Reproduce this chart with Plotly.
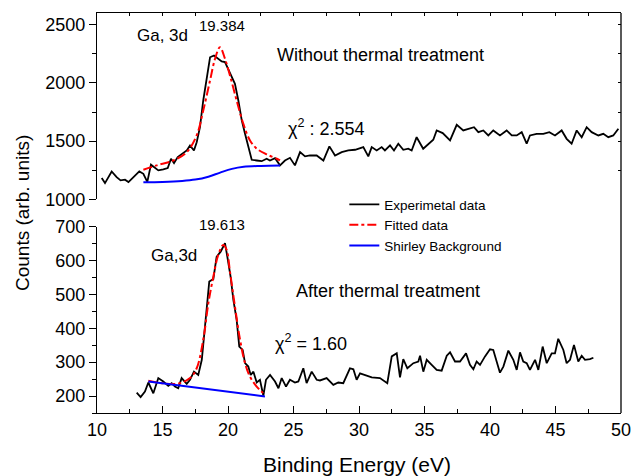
import plotly.graph_objects as go

# ---------------- Top panel: Without thermal treatment ----------------
top_exp_x = [10.36, 10.61, 11.12, 11.5, 11.8, 12.14, 12.4, 12.77, 13.23, 13.54, 13.84, 14.12, 14.43,
             14.68, 15.06, 15.4, 15.65, 15.88, 16.16, 16.59, 16.85, 17.1, 17.4, 17.61, 17.86, 18.11,
             18.37, 18.63, 18.93, 19.26, 19.52, 19.77, 20.15, 20.53, 20.79, 21.05, 21.3, 21.56, 21.81,
             22.2, 22.57, 22.95, 23.2, 23.59, 23.97, 24.35, 24.73, 25.11, 25.5, 25.88, 26.26, 26.77,
             27.28, 27.74, 28.17, 28.68, 29.18, 29.7, 30.33, 30.71, 30.97, 31.35, 31.73, 31.98, 32.37,
             32.67, 33.0, 33.38, 33.76, 34.02, 34.4, 34.9, 35.29, 35.67, 35.93, 36.39, 36.95, 37.46,
             37.96, 38.47, 38.78, 39.11, 39.49, 39.87, 40.25, 40.76, 41.27, 41.66, 42.04, 42.42, 42.8,
             43.05, 43.56, 44.07, 44.53, 44.96, 45.47, 45.85, 46.23, 46.62, 47.0, 47.38, 47.76, 48.27,
             48.65, 49.03, 49.41, 49.8]
top_exp_y = [1183, 1140, 1240, 1191, 1163, 1169, 1149, 1191, 1240, 1220, 1150, 1298, 1269,
             1249, 1257, 1269, 1349, 1311, 1363, 1397, 1420, 1463, 1420, 1491, 1620, 1849,
             2021, 2220, 2235, 2207, 2184, 2178, 2092, 1992, 1849, 1678, 1563, 1449, 1340,
             1334, 1328, 1349, 1334, 1354, 1292, 1334, 1357, 1292, 1406, 1369, 1377, 1377,
             1334, 1455, 1377, 1406, 1420, 1426, 1449, 1369, 1449, 1420, 1449, 1420, 1463,
             1420, 1478, 1426, 1435, 1420, 1534, 1435, 1478, 1512, 1592, 1569, 1506, 1640,
             1592, 1606, 1620, 1577, 1592, 1549, 1592, 1549, 1592, 1549, 1549, 1577, 1478,
             1549, 1563, 1563, 1577, 1549, 1592, 1520, 1478, 1592, 1534, 1620, 1577, 1549,
             1563, 1534, 1549, 1606]

top_fit_x = [13.54, 14.55, 15.82, 16.85, 17.61, 18.11, 18.63, 19.01, 19.39, 19.77, 20.15, 20.66,
             21.17, 21.68, 22.2, 22.95, 23.72, 23.97]
top_fit_y = [1254, 1292, 1334, 1406, 1549, 1763, 2021, 2207, 2306, 2207, 2064, 1849,
             1649, 1506, 1435, 1386, 1349, 1334]

top_bg_x = [13.54, 15.0, 16.5, 17.5, 18.5, 19.4, 20.3, 21.2, 22.5, 23.97]
top_bg_y = [1147, 1150, 1158, 1170, 1195, 1230, 1262, 1280, 1287, 1290]

# ---------------- Bottom panel: After thermal treatment ----------------
bot_exp_x = [13.03, 13.33, 13.66, 13.92, 14.3, 14.68, 15.06, 15.44, 15.7, 15.95, 16.2, 16.46,
             16.85, 17.1, 17.4, 17.73, 18.0, 18.24, 18.57, 18.88, 19.13, 19.44, 19.77, 19.95,
             20.2, 20.41, 20.66, 20.86, 21.12, 21.3, 21.55, 21.73, 21.94, 22.19, 22.44, 22.7,
             22.9, 23.21, 23.59, 23.85, 24.1, 24.43, 24.73, 25.11, 25.37, 25.75, 26.0, 26.39,
             26.77, 27.02, 27.53, 28.04, 28.42, 28.8, 29.31, 29.57, 29.82, 30.08, 30.46, 30.97,
             31.6, 32.16, 32.5, 32.88, 33.13, 33.38, 33.69, 34.15, 34.53, 34.66, 34.91, 35.17,
             35.55, 35.93, 36.31, 36.7, 36.95, 37.33, 37.71, 38.17, 38.47, 38.73, 38.98, 39.24,
             39.62, 40.0, 40.25, 40.76, 41.02, 41.4, 41.78, 42.04, 42.29, 42.54, 42.8, 43.05,
             43.44, 43.69, 44.02, 44.33, 44.71, 44.96, 45.21, 45.6, 45.85, 46.11, 46.41, 46.74,
             47.0, 47.25, 47.63, 47.89]
bot_exp_y = [210, 197, 213, 240, 208, 253, 243, 230, 238, 228, 223, 253,
             236, 248, 272, 262, 307, 405, 538, 545, 611, 626, 651, 611,
             552, 484, 425, 346, 336, 297, 287, 262, 272, 240, 248, 201,
             248, 262, 243, 223, 253, 228, 248, 240, 243, 282, 238, 272,
             248, 246, 253, 233, 240, 238, 282, 279, 248, 267, 262, 255,
             253, 238, 317, 326, 255, 309, 282, 297, 302, 319, 272, 307,
             292, 277, 275, 319, 329, 302, 302, 326, 292, 279, 302, 292,
             317, 338, 336, 269, 287, 334, 307, 277, 329, 302, 297, 277,
             307, 277, 346, 297, 326, 326, 369, 336, 297, 307, 351, 302,
             319, 307, 309, 313]

bot_fit_x = [13.92, 16.08, 17.1, 17.61, 18.11, 18.5, 18.88, 19.26, 19.64, 19.9, 20.15, 20.53,
             20.92, 21.3, 21.68, 22.19, 22.57, 22.82]
bot_fit_y = [245, 236, 253, 282, 366, 474, 552, 617, 646, 631, 567, 464,
             366, 297, 257, 228, 213, 203]

bot_bg_x = [13.92, 18.37, 22.82]
bot_bg_y = [243, 221, 199]

legend_names = ["Experimetal data", "Fitted data", "Shirley Background"]

FONT = "Liberation Sans, Arial, sans-serif"

fig = go.Figure()
# top panel
fig.add_trace(go.Scatter(x=top_exp_x, y=top_exp_y, mode="lines", name=legend_names[0],
                         line=dict(color="black", width=1.8), xaxis="x2", yaxis="y2"))
fig.add_trace(go.Scatter(x=top_fit_x, y=top_fit_y, mode="lines", name=legend_names[1],
                         line=dict(color="#ff0000", width=2, dash="dashdot", shape="spline"),
                         xaxis="x2", yaxis="y2"))
fig.add_trace(go.Scatter(x=top_bg_x, y=top_bg_y, mode="lines", name=legend_names[2],
                         line=dict(color="#0000ff", width=2, shape="spline"), xaxis="x2", yaxis="y2"))
# bottom panel
fig.add_trace(go.Scatter(x=bot_exp_x, y=bot_exp_y, mode="lines", showlegend=False,
                         line=dict(color="black", width=1.8), xaxis="x", yaxis="y"))
fig.add_trace(go.Scatter(x=bot_fit_x, y=bot_fit_y, mode="lines", showlegend=False,
                         line=dict(color="#ff0000", width=2, dash="dashdot", shape="spline"),
                         xaxis="x", yaxis="y"))
fig.add_trace(go.Scatter(x=bot_bg_x, y=bot_bg_y, mode="lines", showlegend=False,
                         line=dict(color="#0000ff", width=2), xaxis="x", yaxis="y"))
# invisible trace so the right-hand tick axis of the top panel is drawn
fig.add_trace(go.Scatter(x=[None], y=[None], mode="lines", showlegend=False,
                         xaxis="x2", yaxis="y3", hoverinfo="skip"))

axis_common = dict(showgrid=False, zeroline=False, showline=True, linecolor="black",
                   linewidth=1.3, tickcolor="black", tickwidth=1.3, automargin=False,
                   tickfont=dict(family=FONT, size=18, color="black"))

fig.update_layout(
    template="none",
    width=632, height=476,
    margin=dict(l=97, r=11, t=13, b=63, pad=0, autoexpand=False),
    paper_bgcolor="white", plot_bgcolor="white",
    font=dict(family=FONT, color="black"),
    xaxis=dict(domain=[0, 1], range=[10, 50], anchor="y", ticks="inside", tick0=10, dtick=5,
               ticklen=7, minor=dict(dtick=2.5, ticklen=4, ticks="inside", tickcolor="black",
                                     tickwidth=1.3, showgrid=False),
               **axis_common),
    yaxis=dict(domain=[0, 0.466], range=[150, 700], anchor="x", ticks="outside", tick0=0,
               dtick=100, ticklen=7,
               minor=dict(dtick=50, ticklen=4, ticks="outside", tickcolor="black", tickwidth=1.3,
                          showgrid=False),
               **axis_common),
    xaxis2=dict(domain=[0, 1], range=[10, 50], anchor="y2", side="top", ticks="inside",
                tick0=10, dtick=2.5, ticklen=3, showticklabels=False, **axis_common),
    yaxis2=dict(domain=[0.534, 1], range=[1000, 2600], anchor="x2", ticks="outside", tick0=0,
                dtick=500, ticklen=7,
                minor=dict(dtick=250, ticklen=4, ticks="outside", tickcolor="black", tickwidth=1.3,
                           showgrid=False),
                **axis_common),
    yaxis3=dict(overlaying="y2", side="right", range=[1000, 2600], anchor="x2", ticks="inside",
                tick0=0, dtick=250, ticklen=3, showticklabels=False, showgrid=False,
                zeroline=False, showline=False, tickcolor="black", tickwidth=1.3,
                automargin=False),
    legend=dict(x=0.472, y=0.56, xanchor="left", yanchor="top", bgcolor="rgba(0,0,0,0)",
                borderwidth=0, font=dict(family=FONT, size=13.5, color="black"),
                tracegroupgap=0),
    shapes=[dict(type="line", xref="paper", yref="paper", x0=1, x1=1, y0=0, y1=1,
                 line=dict(color="black", width=1.3))],
)

def ann(text, x, y, size, **kw):
    # x, y given as pixel positions on the 632x476 canvas -> paper coordinates
    px = (x - 97) / 524
    py = (413 - y) / 400
    fig.add_annotation(text=text, x=px, y=py, xref="paper", yref="paper", showarrow=False,
                       xanchor="center", yanchor="middle",
                       font=dict(family=FONT, size=size, color="black"), **kw)

ann("Ga, 3d", 162, 35, 17)
ann("19.384", 222, 25, 15)
ann("Without thermal treatment", 380, 55, 18)
ann("χ<sup>2</sup> : 2.554", 326, 127, 18)
ann("19.613", 222, 224, 15)
ann("Ga,3d", 174, 255, 17)
ann("After thermal treatment", 388, 291, 18)
ann("χ<sup>2</sup> = 1.60", 311, 342, 18)
ann("Counts (arb. units)", 22, 213, 19, textangle=-90)
ann("Binding Energy (eV)", 357, 465, 21)

fig.write_html("out.html", config={"displayModeBar": False},
               post_script="document.body.style.margin='0px';")
